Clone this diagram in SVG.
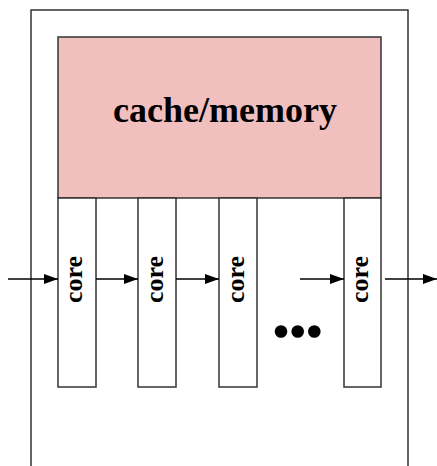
<svg xmlns="http://www.w3.org/2000/svg" width="437" height="466" viewBox="0 0 437 466">
<style>
.box{fill:#ffffff;stroke:#333333;stroke-width:1.5}
.cache{fill:#f2bfbf;stroke:#333333;stroke-width:1.5}
.lbl{font-family:"Liberation Serif",serif;font-weight:bold;fill:#000000}
.conn{stroke:#000000;stroke-width:1.3;fill:none;marker-end:url(#ah)}
</style>
<defs>
<marker id="ah" viewBox="0 0 14 10" refX="14" refY="5" markerWidth="14" markerHeight="10" markerUnits="userSpaceOnUse" orient="auto">
<path d="M0,0 L14,5 L0,10 Z" fill="#000000"/>
</marker>
</defs>
<g id="chip"><rect class="box" x="31" y="10" width="377" height="470"/></g>
<g id="cache"><rect class="cache" x="58" y="37" width="323" height="161"/>
<text class="lbl" x="225" y="122" font-size="36" text-anchor="middle">cache/memory</text></g>
<g id="core1"><rect class="box" x="58" y="198" width="38" height="189"/>
<text class="lbl" font-size="26" text-anchor="middle" transform="translate(82,279.5) rotate(-90)">core</text></g>
<g id="core2"><rect class="box" x="138" y="198" width="38" height="189"/>
<text class="lbl" font-size="26" text-anchor="middle" transform="translate(163,279.5) rotate(-90)">core</text></g>
<g id="core3"><rect class="box" x="219" y="198" width="38" height="189"/>
<text class="lbl" font-size="26" text-anchor="middle" transform="translate(244,279.5) rotate(-90)">core</text></g>
<g id="core4"><rect class="box" x="344" y="198" width="37" height="189"/>
<text class="lbl" font-size="26" text-anchor="middle" transform="translate(368,279.5) rotate(-90)">core</text></g>
<g id="ellipsis"><circle cx="281" cy="331.5" r="6.3"/><circle cx="297.7" cy="331.5" r="6.3"/><circle cx="314.3" cy="331.5" r="6.3"/></g>
<g id="connectors">
<line class="conn" x1="8" y1="279" x2="58" y2="279"/>
<line class="conn" x1="96" y1="279" x2="138" y2="279"/>
<line class="conn" x1="176" y1="279" x2="219" y2="279"/>
<line class="conn" x1="300" y1="279" x2="344" y2="279"/>
<line class="conn" x1="385" y1="279" x2="437" y2="279"/>
</g>
</svg>
